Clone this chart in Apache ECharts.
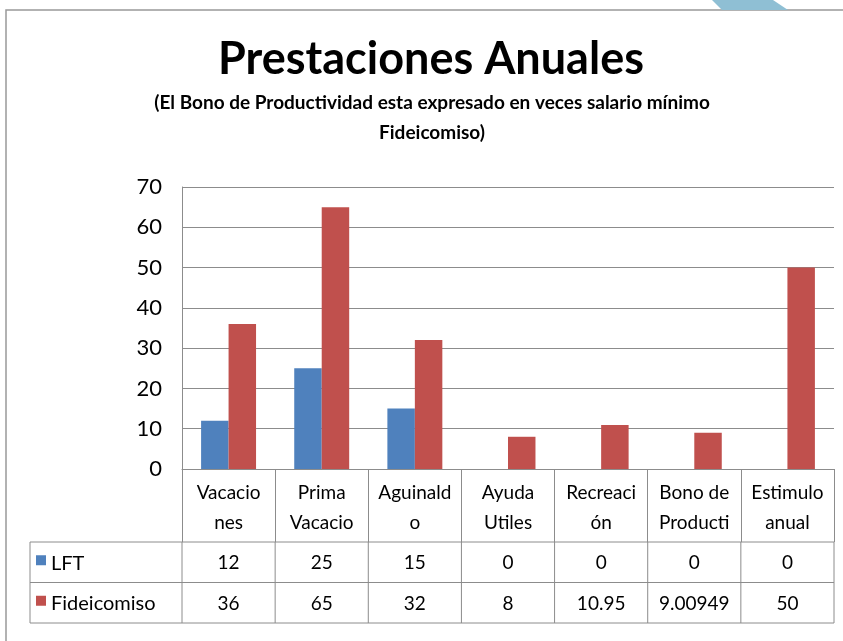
<!DOCTYPE html>
<html>
<head>
<meta charset="utf-8">
<script src="https://cdn.jsdelivr.net/npm/echarts@6/dist/echarts.min.js"></script>
<style>
html,body{margin:0;padding:0;background:#fff;}
#chart{width:843px;height:641px;}
</style>
</head>
<body>
<div id="chart"></div>
<script>
var categories = ['Vacacio\nnes', 'Prima\nVacacio', 'Aguinald\no', 'Ayuda\nUtiles', 'Recreaci\nón', 'Bono de\nProducti', 'Estimulo\nanual'];
var lftValues = [12, 25, 15, 0, 0, 0, 0];
var fideValues = [36, 65, 32, 8, 10.95, 9.00949, 50];
var lftLabels = ['12', '25', '15', '0', '0', '0', '0'];
var fideLabels = ['36', '65', '32', '8', '10.95', '9.00949', '50'];
var yTicks = [0, 10, 20, 30, 40, 50, 60, 70];
var titleText = 'Prestaciones Anuales';
var subtitleText = '(El Bono de Productividad esta expresado en veces salario mínimo\nFideicomiso)';

var FONT = 'Lato';
var GRAY = '#8c8c8c';
var BLUE = '#4F81BD';
var RED = '#C0504D';

var chart = echarts.init(document.getElementById('chart'));

var option = {
    backgroundColor: '#fff',
    animation: false,
    grid: {left: 182, right: 9, top: 187, bottom: 172, containLabel: false},
    xAxis: {
        type: 'category',
        data: categories,
        axisLine: {lineStyle: {color: GRAY}},
        axisTick: {show: true, length: 73, lineStyle: {color: GRAY}},
        axisLabel: {fontFamily: FONT, fontSize: 19, color: '#000', lineHeight: 30, margin: 9, interval: 0}
    },
    yAxis: {
        type: 'value',
        min: yTicks[0],
        max: yTicks[yTicks.length - 1],
        interval: 10,
        axisLine: {show: true, lineStyle: {color: GRAY}},
        axisTick: {show: false},
        splitLine: {lineStyle: {color: GRAY}},
        axisLabel: {fontFamily: FONT, fontSize: 22, color: '#000', margin: 20}
    },
    series: [
        {name: 'LFT', type: 'bar', data: lftValues, itemStyle: {color: BLUE}, barGap: '0%', barCategoryGap: '41%'},
        {name: 'Fideicomiso', type: 'bar', data: fideValues, itemStyle: {color: RED}, barGap: '0%', barCategoryGap: '41%'}
    ]
};
chart.setOption(option);

// tabla de datos bajo el eje, posiciones tomadas del eje
function buildTable(){
    var n = categories.length;
    var x0 = chart.convertToPixel({xAxisIndex: 0}, 0);
    var x1 = chart.convertToPixel({xAxisIndex: 0}, 1);
    var step = x1 - x0;
    var left = x0 - step / 2;
    var right = left + step * n;
    var yZero = chart.convertToPixel({yAxisIndex: 0}, 0);
    var rowTop = yZero + 73;
    var rowH = 40.5;
    var tableLeft = 30;
    var els = [];

    function line(xa, ya, xb, yb){
        els.push({type: 'line', shape: {x1: xa, y1: ya, x2: xb, y2: yb}, style: {stroke: GRAY, lineWidth: 1}, silent: true});
    }

    for (var r = 0; r <= 2; r++) line(tableLeft, rowTop + r * rowH, right, rowTop + r * rowH);
    line(tableLeft, rowTop, tableLeft, rowTop + 2 * rowH);
    for (var i = 0; i <= n; i++) line(left + i * step, rowTop, left + i * step, rowTop + 2 * rowH);

    var rows = [{name: 'LFT', color: BLUE, labels: lftLabels}, {name: 'Fideicomiso', color: RED, labels: fideLabels}];
    rows.forEach(function(row, r){
        var cy = rowTop + r * rowH + rowH / 2;
        els.push({type: 'rect', shape: {x: 36, y: cy - 7, width: 10, height: 10}, style: {fill: row.color}, silent: true});
        els.push({type: 'text', x: 51, y: cy + 1, style: {text: row.name, fontFamily: FONT, fontSize: 20, fill: '#000', verticalAlign: 'middle'}, silent: true});
        for (var i = 0; i < n; i++) {
            els.push({type: 'text', x: left + (i + 0.5) * step, y: cy + 1, style: {text: row.labels[i], fontFamily: FONT, fontSize: 19, fill: '#000', align: 'center', verticalAlign: 'middle'}, silent: true});
        }
    });

    // titulo centrado sobre la diapositiva
    els.push({type: 'text', x: 431, y: 59, style: {text: titleText, fontFamily: FONT, fontSize: 45, fontWeight: 'bold', fill: '#000', align: 'center', verticalAlign: 'middle'}, silent: true});
    els.push({type: 'text', x: 432, y: 118, style: {text: subtitleText, fontFamily: FONT, fontSize: 19, fontWeight: 'bold', fill: '#000', align: 'center', verticalAlign: 'middle', lineHeight: 30}, silent: true});

    // marco y adorno de la diapositiva
    els.push({type: 'polyline', shape: {points: [[6, 641], [6, 10], [843, 10]]}, style: {stroke: '#999', lineWidth: 1.5, fill: null}, silent: true});
    els.push({type: 'polygon', shape: {points: [[712, 0], [773, 0], [788, 10], [722, 10]]}, style: {fill: '#8fbfd4'}, silent: true});

    chart.setOption({graphic: {elements: els}});
}
buildTable();
</script>
</body>
</html>
